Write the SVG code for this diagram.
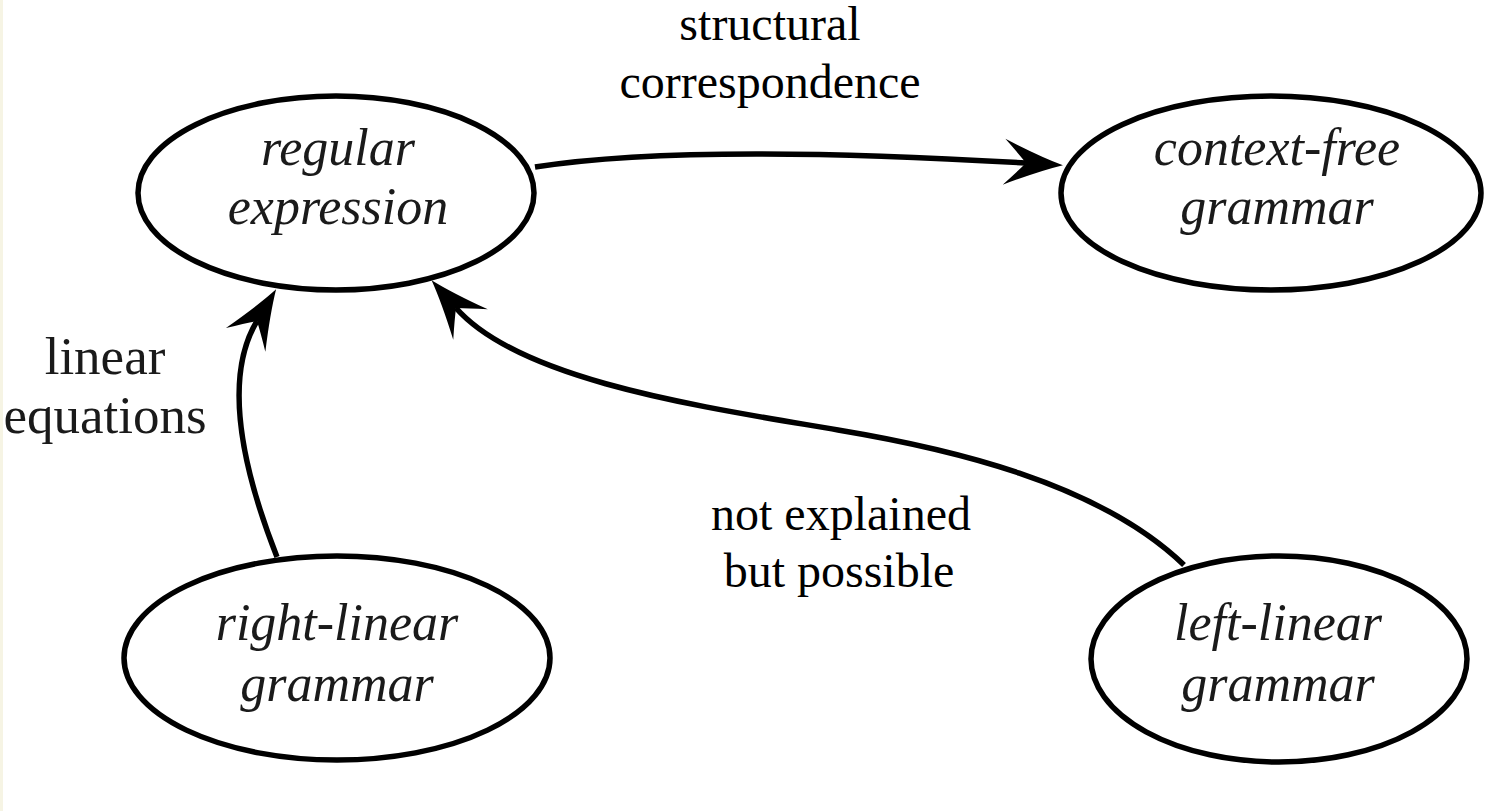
<svg xmlns="http://www.w3.org/2000/svg" width="1501" height="811" viewBox="0 0 1501 811">
  <style>
    .node { fill: #ffffff; stroke: #000000; stroke-width: 5.5; }
    .lbl { font-family: "Liberation Serif", "Times New Roman", serif; font-style: italic; font-size: 52px; fill: #1a1a1a; text-anchor: middle; }
    .elbl { font-family: "Liberation Serif", "Times New Roman", serif; font-size: 48px; fill: #000000; text-anchor: middle; }
    .cm { font-family: "Liberation Serif", "Times New Roman", serif; font-size: 53px; fill: #1a1a1a; text-anchor: middle; }
    .edge { fill: none; stroke: #000000; stroke-width: 5.5; marker-end: url(#arrow); }
  </style>
  <defs>
    <marker id="arrow" markerUnits="userSpaceOnUse" markerWidth="80" markerHeight="60" refX="0" refY="0" orient="auto" viewBox="-30 -30 80 60" overflow="visible">
      <path d="M37,0 Q14,-7 -22,-23 Q-8,-9 0,0 Q-8,9 -22,23 Q14,7 37,0 Z" fill="#000000"/>
    </marker>
  </defs>
  <rect x="0" y="0" width="1501" height="811" fill="#ffffff"/>
  <rect x="0" y="0" width="3" height="811" fill="#f6f4e4"/>

  <g id="connectors">
    <path id="e-structural" class="edge" d="M535,167 Q687,143 1026,163"/>
    <path id="e-linear" class="edge" d="M277,557 Q213,394 257,321"/>
    <path id="e-notexplained" class="edge" d="M1184,565 C1098,482 946,448 838,430 C710,408 521,382 456,308"/>
    <text class="elbl" x="770" y="40">structural</text>
    <text class="elbl" x="770" y="98">correspondence</text>
    <text class="cm" x="105" y="374">linear</text>
    <text class="cm" x="105" y="433">equations</text>
    <text class="elbl" x="841" y="530">not explained</text>
    <text class="elbl" x="839" y="587">but possible</text>
  </g>

  <g id="regular-expression">
    <ellipse class="node" cx="336" cy="193" rx="198" ry="97"/>
    <text class="lbl" x="338" y="165">regular</text>
    <text class="lbl" x="338" y="224">expression</text>
  </g>

  <g id="context-free-grammar">
    <ellipse class="node" cx="1271" cy="193" rx="210" ry="97"/>
    <text class="lbl" x="1277" y="165">context-free</text>
    <text class="lbl" x="1277" y="224">grammar</text>
  </g>

  <g id="right-linear-grammar">
    <ellipse class="node" cx="337" cy="658" rx="213" ry="102"/>
    <text class="lbl" x="337" y="640">right-linear</text>
    <text class="lbl" x="337" y="701">grammar</text>
  </g>

  <g id="left-linear-grammar">
    <ellipse class="node" cx="1279" cy="659" rx="188" ry="103"/>
    <text class="lbl" x="1278" y="640">left-linear</text>
    <text class="lbl" x="1278" y="701">grammar</text>
  </g>
</svg>
